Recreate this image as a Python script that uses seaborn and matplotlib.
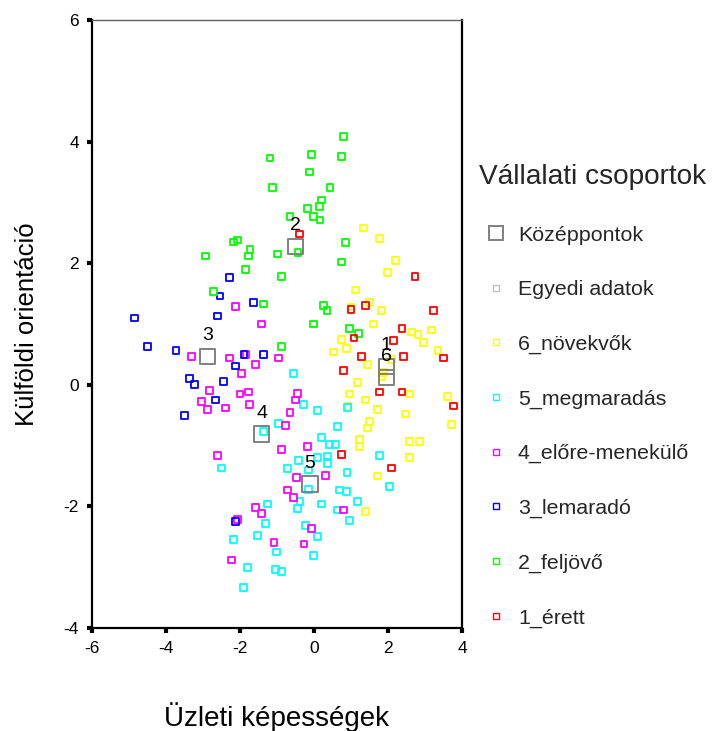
import pandas as pd
import seaborn as sns
import matplotlib
matplotlib.use("Agg")
import matplotlib.pyplot as plt
from matplotlib.lines import Line2D

# groups in legend order, with their SPSS colours
groups = ["6_növekvők", "5_megmaradás", "4_előre-menekülő", "3_lemaradó", "2_feljövő", "1_érett"]
colors = ["#FFFF00", "#00FFFF", "#FF00FF", "#0000FF", "#00FF00", "#FF0000"]

# 1_érett
x_1 = [-0.40, 2.73, 1.00, 1.40, 3.23, 2.38, 1.08, 2.15, 1.29, 2.42, 3.51, 0.80, 1.78, 2.38, 3.76, 0.75, 2.10]
y_1 = [2.48, 1.78, 1.24, 1.30, 1.22, 0.93, 0.77, 0.73, 0.47, 0.47, 0.44, 0.24, -0.12, -0.12, -0.35, -1.14, -1.37]

# 2_feljövő
x_2 = [0.79, -0.06, 0.75, -0.13, 0.43, 0.21, 0.14, -0.17, -0.02, 0.16, -0.65, 0.86, -0.99, -0.43, 0.75, -0.87,
       -1.19, -1.12, 0.26, 0.35, -2.18, -2.06, -1.73, -1.78, -2.93, -1.85, -2.72, -1.36, -0.01, 0.96, 1.20, -0.87]
y_2 = [4.08, 3.79, 3.76, 3.50, 3.24, 3.04, 2.93, 2.90, 2.77, 2.71, 2.77, 2.34, 2.15, 2.18, 2.02, 1.78,
       3.73, 3.24, 1.30, 1.22, 2.35, 2.38, 2.22, 2.12, 2.12, 1.89, 1.53, 1.33, 1.00, 0.93, 0.84, 0.63]

# 3_lemaradó
x_3 = [-4.86, -2.60, -2.28, -2.54, -1.64, -4.49, -3.73, -1.89, -1.36, -2.12, -3.37, -3.24, -2.44, -2.66, -3.51, -2.12]
y_3 = [1.10, 1.13, 1.76, 1.46, 1.35, 0.63, 0.57, 0.50, 0.50, 0.31, 0.11, 0.01, 0.05, -0.25, -0.51, -2.25]

# 4_előre-menekülő
x_4 = [-2.12, -1.41, -3.31, -2.28, -1.84, -1.58, -1.95, -0.95, -2.82, -3.03, -2.87, -2.39, -2.00, -1.78, -1.74,
       -2.60, -0.87, -0.44, -0.49, -0.65, -0.78, -0.17, -0.48, 0.32, -0.71, -0.56, 0.79, -0.06, -0.27, -1.08,
       -1.58, -1.41, -2.06, -2.22]
y_4 = [1.29, 1.00, 0.47, 0.44, 0.50, 0.34, 0.18, 0.44, -0.09, -0.27, -0.41, -0.38, -0.15, -0.12, -0.32,
       -1.16, -1.06, -0.14, -0.25, -0.45, -0.67, -1.01, -1.52, -1.49, -1.73, -1.86, -2.06, -2.36, -2.62, -2.59,
       -2.02, -2.12, -2.22, -2.88]

# 5_megmaradás
x_5 = [-1.37, -0.95, -2.49, -0.55, -0.28, 0.10, 0.91, 0.64, 0.21, 0.41, 0.59, 0.10, 0.37, 0.37, -0.42,
       -0.71, 1.78, 0.89, -0.14, -1.25, -1.31, -2.17, -1.52, -1.01, -1.79, -1.05, -1.91, -0.15, 0.70, 0.87,
       2.05, 1.18, 0.21, -0.38, -0.44, 0.64, 0.95, -0.22, 0.10, -0.01, -0.87]
y_5 = [-0.77, -0.64, -1.37, 0.18, -0.32, -0.42, -0.37, -0.68, -0.87, -0.98, -0.98, -1.20, -1.17, -1.29, -1.24,
       -1.38, -1.16, -1.44, -1.40, -1.96, -2.28, -2.55, -2.48, -2.75, -3.01, -3.04, -3.34, -1.72, -1.73, -1.76,
       -1.67, -1.92, -1.96, -1.92, -2.03, -2.06, -2.23, -2.32, -2.49, -2.81, -3.07]

# 6_növekvők
x_6 = [1.34, 1.78, 2.21, 1.98, 1.13, 1.51, 1.00, 1.83, 1.61, 2.64, 2.81, 3.18, 2.95, 0.75, 0.87, 0.53, 3.35,
       2.10, 1.45, 1.87, 1.84, 1.18, 2.59, 0.96, 1.40, 3.61, 1.72, 2.48, 3.72, 1.51, 1.44, 1.22, 1.22, 2.59,
       2.86, 2.59, 1.72, 0.92, 1.40]
y_6 = [2.58, 2.41, 2.05, 1.85, 1.56, 1.36, 1.28, 1.22, 1.00, 0.87, 0.83, 0.90, 0.70, 0.74, 0.60, 0.54, 0.57,
       0.41, 0.34, 0.20, 0.13, 0.04, -0.15, -0.15, -0.25, -0.19, -0.41, -0.48, -0.65, -0.60, -0.71, -0.90,
       -1.01, -0.93, -0.93, -1.20, -1.50, -0.36, -2.09]

# group centroids (Középpontok)
cent_labels = ["1", "2", "3", "4", "5", "6"]
cent_x = [1.95, -0.49, -2.87, -1.41, -0.11, 1.95]
cent_y = [0.30, 2.27, 0.47, -0.81, -1.63, 0.12]

xs = [x_6, x_5, x_4, x_3, x_2, x_1]
ys = [y_6, y_5, y_4, y_3, y_2, y_1]
df = pd.concat([pd.DataFrame({"x": a, "y": b, "csoport": g}) for a, b, g in zip(xs, ys, groups)],
               ignore_index=True)

sns.set_theme(style="white")
plt.rcParams["font.family"] = ["Liberation Sans", "DejaVu Sans"]
plt.rcParams["axes.unicode_minus"] = False

fig = plt.figure(figsize=(7.12, 7.31), dpi=100)
ax = fig.add_axes([92 / 712, 1 - 628 / 731, 370 / 712, 608 / 731])

sns.scatterplot(data=df, x="x", y="y", hue="csoport", hue_order=groups, palette=colors,
                marker="s", s=24, linewidth=1.3, legend=False, ax=ax)
pts = ax.collections[-1]
pts.set_edgecolors(pts.get_facecolors())
pts.set_facecolors("none")

sns.scatterplot(x=cent_x, y=cent_y, marker="s", s=120, color="#808080", linewidth=1.4,
                legend=False, ax=ax)
cpts = ax.collections[-1]
cpts.set_edgecolors("#808080")
cpts.set_facecolors("none")
for lab, cx, cy in zip(cent_labels, cent_x, cent_y):
    ax.annotate(lab, (cx, cy), xytext=(0, 15), textcoords="offset points",
                ha="center", va="center", fontsize=14, color="black")

ax.set_xlim(-6, 4)
ax.set_ylim(-4, 6)
ax.set_xticks([-6, -4, -2, 0, 2, 4])
ax.set_yticks([-4, -2, 0, 2, 4, 6])
ax.tick_params(bottom=True, left=True, direction="out", length=3.5, width=3,
               color="black", labelsize=12.5, pad=6, labelcolor="black")

for side in ["left", "bottom", "right"]:
    ax.spines[side].set_color("black")
    ax.spines[side].set_linewidth(1.6)
ax.spines["top"].set_color("#606060")
ax.spines["top"].set_linewidth(1.0)

ax.set_xlabel("Üzleti képességek", fontsize=20, color="black", va="top")
ax.xaxis.set_label_coords(0.5, -0.122)
ax.set_ylabel("Külföldi orientáció", fontsize=18.5, color="black")
ax.yaxis.set_label_coords(-0.143, 0.5)

handles = [Line2D([], [], ls="none", marker="s", ms=10, mfc="none", mec="#808080", mew=1.4),
           Line2D([], [], ls="none", marker="s", ms=4, mfc="none", mec="#C0C0C0", mew=1.0)]
handles += [Line2D([], [], ls="none", marker="s", ms=4, mfc="none", mec=c, mew=1.0) for c in colors]
labels = ["Középpontok", "Egyedi adatok"] + groups

ax.legend(handles, labels, title="Vállalati csoportok", loc="upper left",
          bbox_to_anchor=(479 / 712, 1 - 164 / 731), bbox_transform=fig.transFigure,
          frameon=False, fontsize=15.4, title_fontsize=20.2, labelspacing=1.66,
          handlelength=1.59, handletextpad=0.23, borderpad=0, borderaxespad=0,
          alignment="left")

fig.savefig("out.png", dpi=100)
